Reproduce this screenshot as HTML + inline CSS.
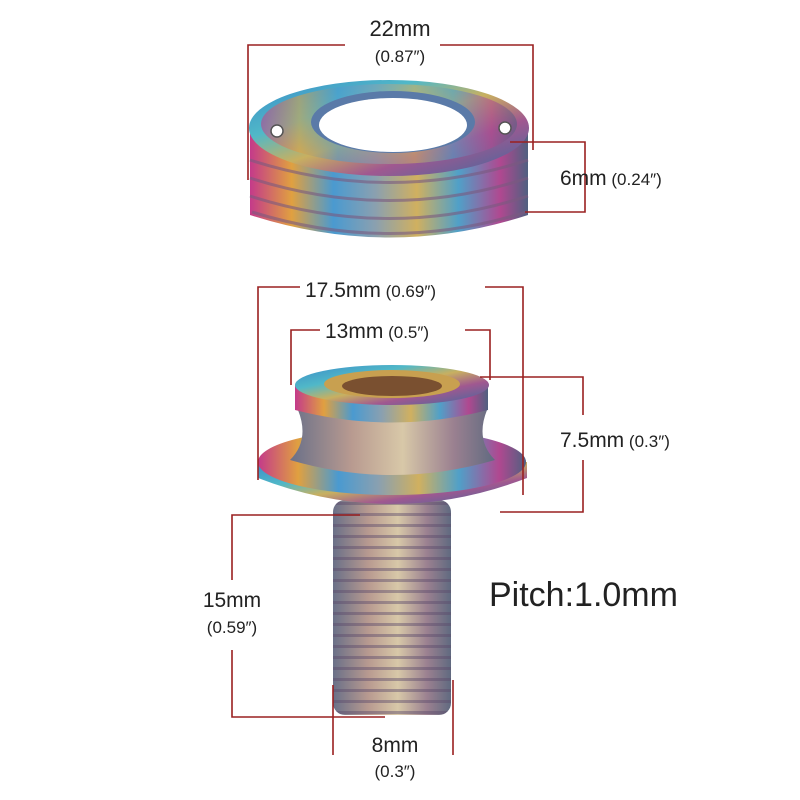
<!DOCTYPE html>
<html><head><meta charset="utf-8"><style>
html,body{margin:0;padding:0;background:#fff;}
svg{display:block;}
text{font-family:"Liberation Sans",sans-serif;fill:#222;}
</style></head><body>
<svg width="800" height="800" viewBox="0 0 800 800" xmlns="http://www.w3.org/2000/svg">
<defs>
<linearGradient id="rb" x1="0" y1="0" x2="1" y2="0">
<stop offset="0" stop-color="#c43a8a"/><stop offset="0.15" stop-color="#e0a040"/>
<stop offset="0.3" stop-color="#4a9ad0"/><stop offset="0.45" stop-color="#8aa0b0"/>
<stop offset="0.6" stop-color="#d0b060"/><stop offset="0.75" stop-color="#50a0c8"/>
<stop offset="0.9" stop-color="#b04890"/><stop offset="1" stop-color="#506080"/>
</linearGradient>
<linearGradient id="rb2" x1="0" y1="0" x2="1" y2="1">
<stop offset="0" stop-color="#3a8ac8"/><stop offset="0.3" stop-color="#50b8c8"/>
<stop offset="0.5" stop-color="#c8b060"/><stop offset="0.7" stop-color="#a05890"/>
<stop offset="1" stop-color="#3a6aa0"/>
</linearGradient>
<linearGradient id="sh" x1="0" y1="0" x2="1" y2="0">
<stop offset="0" stop-color="#6a7088"/><stop offset="0.3" stop-color="#b89a90"/>
<stop offset="0.55" stop-color="#d8c8a8"/><stop offset="0.8" stop-color="#9a8090"/>
<stop offset="1" stop-color="#606a80"/>
</linearGradient>
<pattern id="thr" width="10" height="11" patternUnits="userSpaceOnUse">
<rect width="10" height="11" fill="none"/><rect y="7" width="10" height="3" fill="#5a4a6a" opacity="0.45"/>
</pattern>
</defs>

<path d="M250 130 L250 215 Q390 260 528 215 L528 130 Z" fill="url(#rb)"/>
<g stroke="#7a5a80" stroke-width="3" fill="none" opacity="0.6">
<path d="M250 160 Q390 205 528 160"/><path d="M250 178 Q390 223 528 178"/>
<path d="M250 196 Q390 241 528 196"/><path d="M252 212 Q390 255 526 212"/>
</g>
<ellipse cx="389" cy="128" rx="140" ry="48" fill="url(#rb2)"/>
<ellipse cx="389" cy="124" rx="128" ry="40" fill="url(#rb)" opacity="0.55"/>
<ellipse cx="393" cy="122" rx="82" ry="31" fill="#5a7aa8"/>
<ellipse cx="393" cy="125" rx="74" ry="27" fill="#fff"/>
<circle cx="277" cy="131" r="6" fill="#fff" stroke="#555" stroke-width="1.5"/>
<circle cx="505" cy="128" r="6" fill="#fff" stroke="#555" stroke-width="1.5"/>

<rect x="333" y="500" width="118" height="215" rx="12" fill="url(#sh)"/>
<rect x="333" y="500" width="118" height="215" rx="12" fill="url(#thr)"/>
<path d="M258 462 L258 478 Q392 530 527 478 L527 462 Z" fill="url(#rb2)"/>
<ellipse cx="392" cy="462" rx="134" ry="33" fill="url(#rb)"/>
<path d="M298 410 Q310 440 290 460 Q392 490 495 460 Q475 440 487 410 Z" fill="url(#sh)"/>
<path d="M295 385 L295 410 Q392 435 488 410 L488 385 Z" fill="url(#rb)"/>
<ellipse cx="392" cy="385" rx="97" ry="20" fill="url(#rb2)"/>
<ellipse cx="392" cy="384" rx="68" ry="14" fill="#c8a050"/>
<ellipse cx="392" cy="386" rx="50" ry="10" fill="#7a5030"/>

<g stroke="#9a2020" stroke-width="1.6" fill="none">
<path d="M248 180 V45 H345 M440 45 H533 V150"/>
<path d="M510 142 H585 V212 H525"/>
<path d="M258 480 V287 H300 M485 287 H523 V495"/>
<path d="M291 385 V330 H320 M465 330 H490 V380"/>
<path d="M480 377 H583 V415 M583 460 V512 H500"/>
<path d="M360 515 H232 V580 M232 650 V717 H385"/>
<path d="M333 685 V755 M453 680 V755"/>
</g>

<text x="400" y="36" font-size="22" text-anchor="middle">22mm</text>
<text x="400" y="62" font-size="17" text-anchor="middle">(0.87″)</text>
<text x="560" y="185" font-size="21">6mm<tspan font-size="17"> (0.24″)</tspan></text>
<text x="305" y="297" font-size="21">17.5mm<tspan font-size="17"> (0.69″)</tspan></text>
<text x="325" y="338" font-size="21">13mm<tspan font-size="17"> (0.5″)</tspan></text>
<text x="560" y="447" font-size="21">7.5mm<tspan font-size="17"> (0.3″)</tspan></text>
<text x="232" y="607" font-size="21" text-anchor="middle">15mm</text>
<text x="232" y="633" font-size="17" text-anchor="middle">(0.59″)</text>
<text x="395" y="752" font-size="21" text-anchor="middle">8mm</text>
<text x="395" y="777" font-size="17" text-anchor="middle">(0.3″)</text>
<text x="489" y="606" font-size="34" fill="#111">Pitch:1.0mm</text>
</svg>
</body></html>
